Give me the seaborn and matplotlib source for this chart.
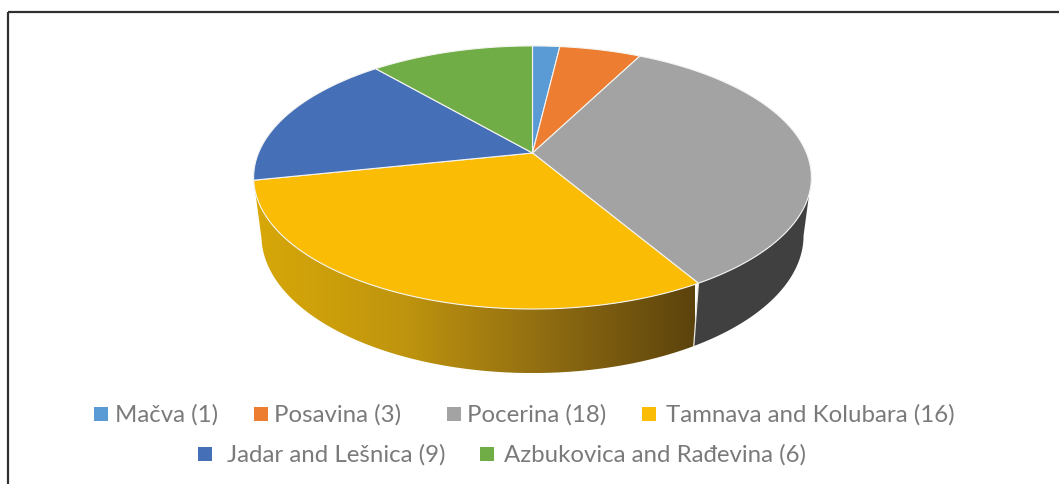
import numpy as np
import matplotlib
matplotlib.use("Agg")
import matplotlib.pyplot as plt
from matplotlib.colors import LinearSegmentedColormap
from matplotlib.patches import Polygon
import seaborn as sns

# data
regions = ["Mačva", "Posavina", "Pocerina", "Tamnava and Kolubara", "Jadar and Lešnica", "Azbukovica and Rađevina"]
counts = [1, 3, 18, 16, 9, 6]
colors = ["#5B9BD5", "#ED7D31", "#A3A3A3", "#FABC04", "#4570B8", "#70AD47"]
side_stops = ["#D8A808", "#C0950E", "#8F6C12", "#5C430C"]

sns.set_theme(style="white")
plt.rcParams["font.family"] = ["Lato", "DejaVu Sans"]

W, H = 1059, 485
fig, ax = plt.subplots(figsize=(W / 100, H / 100), dpi=100)
ax.set_position([0, 0, 1, 1])
ax.set_xlim(0, W)
ax.set_ylim(H, 0)
ax.axis("off")

# tilted disc: perspective from the flat circle to the screen
cx, cy = 532.5, 154
rx, ry, persp = 274, 127, 0.186


def rim(t):
    u, v = np.sin(t), np.cos(t)
    w = 1 + persp * v
    return cx + rx * u / w, cy - ry * v / w


def low_rim(t):
    x, y = rim(t)
    return cx + 0.972 * (x - cx), cy + 57 + 1.045 * (y - cy)


edges = np.radians(np.cumsum([0] + counts) / sum(counts) * 360)
right_limit = np.pi / 2 + np.arcsin(persp)

# side walls: only Pocerina and Tamnava are on the front
t1 = np.linspace(right_limit, edges[3], 80)
x1, y1 = rim(t1)
x2, y2 = low_rim(t1[::-1])
ax.fill(np.r_[x1, x2], np.r_[y1, y2], color="#404040", lw=0, zorder=2)

t2 = np.linspace(edges[3], edges[4], 160)
x1, y1 = rim(t2)
x2, y2 = low_rim(t2[::-1])
wall = Polygon(np.c_[np.r_[x1, x2], np.r_[y1, y2]], closed=True, fc="none", lw=0, transform=ax.transData)
ax.add_patch(wall)
cmap = LinearSegmentedColormap.from_list("side", side_stops)
grad = ax.imshow(np.linspace(1, 0, 256).reshape(1, -1), cmap=cmap, aspect="auto", zorder=2,
                 extent=[x2.max(), x1.min(), y2.max(), y1.min()])
grad.set_clip_path(wall)
ax.set_xlim(0, W)
ax.set_ylim(H, 0)

# white seam between the two walls
xa, ya = rim(edges[3])
xb, yb = low_rim(edges[3])
ax.plot([xa, xb], [ya, yb], color="#e8e8e0", lw=0.9, zorder=3)

# top face
for i in range(len(counts)):
    t = np.linspace(edges[i], edges[i + 1], 120)
    x, y = rim(t)
    ax.fill(np.r_[cx, x], np.r_[cy, y], fc=colors[i], ec="#f4f4f0", lw=0.8, joinstyle="round", zorder=4)

# legend
text_col = "#7a7a7a"
fs = 17.3
row1 = [(94, 115), (254, 274), (447, 467), (642, 666)]
row2 = [(198, 227), (480, 504)]
for (sq, tx), i in zip(row1 + row2, range(6)):
    yy = 415 if i < 4 else 455
    ax.scatter([sq + 6.5], [yy], marker="s", s=95, color=colors[i], lw=0, zorder=5)
    ax.text(tx, yy, f"{regions[i]} ({counts[i]})", color=text_col, fontsize=fs, va="center", ha="left", zorder=5)

# frame of the figure
ax.plot([8, 8], [H, 12.5], color="#303030", lw=1.6, zorder=6, solid_capstyle="butt")
ax.plot([8, W], [12.5, 12.5], color="#303030", lw=1.6, zorder=6, solid_capstyle="butt")

fig.savefig("out.png", dpi=100)
